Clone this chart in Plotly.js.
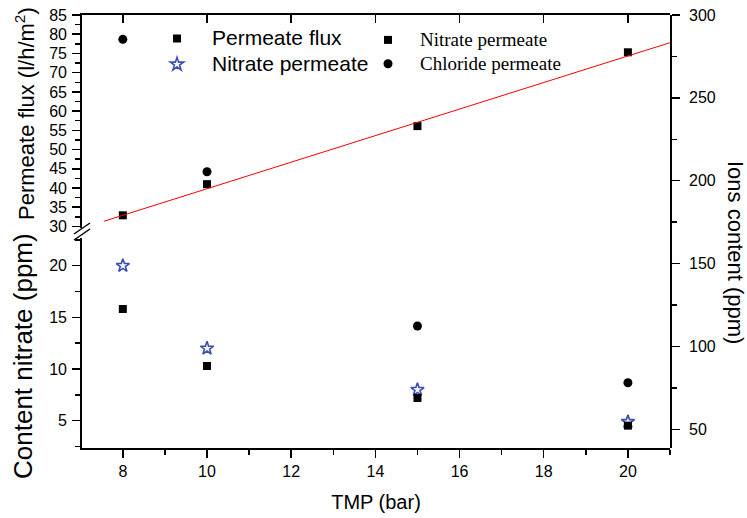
<!DOCTYPE html>
<html>
<head>
<meta charset="utf-8">
<script src="https://cdn.plot.ly/plotly-3.0.1.min.js"></script>
<style>html,body{margin:0;padding:0;background:#fff;}#chart{width:747px;height:518px;}</style>
</head>
<body>
<div id="chart"></div>
<script>
// ---- data ----
var tmp = [8, 10, 15, 20];
var permeateFlux = [32.9, 41.0, 56.1, 75.3];            // l/h/m2 (upper left axis)
var nitrateContent = [20.0, 12.0, 8.0, 4.9];            // ppm (lower left axis)
var nitrateIons = [122.6, 88.2, 68.9, 52.2];            // ppm (right axis)
var chlorideIons = [285.3, 205.4, 112.3, 78.1];         // ppm (right axis)
var fitX = [7.55, 21.0];                                // linear fit of flux
var fitY = [31.35, 77.8];
var xTicks = [8, 10, 12, 14, 16, 18, 20];

// ---- layout helpers (pixel -> paper) ----
var L = 82, R = 670, T = 15, B = 448;
function px(x) { return (x - L) / (R - L); }
function py(y) { return (B - y) / (B - T); }

var axFont = {family: 'Liberation Sans, Arial, sans-serif', size: 16, color: '#000'};

function big(txt, size) { return '<span style="font-size:' + size + 'px">' + txt + '</span>'; }

var traces = [
  {x: tmp, y: permeateFlux, xaxis: 'x', yaxis: 'y', mode: 'markers', name: big('Permeate flux', 21),
   marker: {symbol: 'square', size: 8, color: '#000'}, legend: 'legend', cliponaxis: false},
  {x: fitX, y: fitY, xaxis: 'x', yaxis: 'y', mode: 'lines', showlegend: false,
   line: {color: '#ff0000', width: 1}},
  {x: tmp, y: nitrateContent, xaxis: 'x', yaxis: 'y2', mode: 'markers', name: big('Nitrate permeate', 21),
   marker: {symbol: 'star-open', size: 10, color: '#3a4fb0', line: {width: 1.6, color: '#3a4fb0'}}, legend: 'legend', cliponaxis: false},
  {x: tmp, y: nitrateIons, xaxis: 'x', yaxis: 'y3', mode: 'markers', name: big('Nitrate permeate', 19),
   marker: {symbol: 'square', size: 8, color: '#000'}, legend: 'legend2', cliponaxis: false},
  {x: tmp, y: chlorideIons, xaxis: 'x', yaxis: 'y3', mode: 'markers', name: big('Chloride permeate', 19),
   marker: {symbol: 'circle', size: 9, color: '#000'}, legend: 'legend2', cliponaxis: false},
  {x: [7.5], y: [50], xaxis: 'x2', yaxis: 'y', mode: 'markers', showlegend: false, hoverinfo: 'skip',
   marker: {size: 1, opacity: 0}}
];

var layout = {
  width: 747, height: 518,
  margin: {l: L, r: 747 - R, t: T, b: 518 - B, pad: 0},
  paper_bgcolor: '#fff', plot_bgcolor: 'rgba(0,0,0,0)',
  font: axFont,
  showlegend: true,
  xaxis: {
    domain: [0, 1], anchor: 'y2', range: [7.03, 21.0],
    tickmode: 'array', tickvals: xTicks, ticks: 'outside', ticklen: 8, tickwidth: 1.5, tickcolor: '#000',
    minor: {dtick: 1, tick0: 7, ticks: 'outside', ticklen: 5, tickwidth: 1.5, tickcolor: '#000', showgrid: false},
    showline: true, linewidth: 1.8, linecolor: '#000', showgrid: false, zeroline: false,
    tickfont: axFont,
    title: {text: 'TMP (bar)', font: {family: 'Liberation Sans, Arial, sans-serif', size: 20, color: '#000'}, standoff: 16}
  },
  xaxis2: {
    overlaying: 'x', side: 'top', anchor: 'y', range: [7.03, 21.0],
    tickmode: 'array', tickvals: xTicks, ticks: 'inside', ticklen: 8, tickwidth: 1.5, tickcolor: '#000',
    showticklabels: false, showline: true, linewidth: 1.8, linecolor: '#000', showgrid: false, zeroline: false
  },
  yaxis: {
    domain: [py(228), 1], anchor: 'x', range: [29.6, 85],
    dtick: 5, tick0: 0, ticks: 'outside', ticklen: 8, tickwidth: 1.5, tickcolor: '#000',
    minor: {dtick: 2.5, tick0: 0, ticks: 'outside', ticklen: 5, tickwidth: 1.5, tickcolor: '#000', showgrid: false},
    showline: true, linewidth: 1.8, linecolor: '#000', showgrid: false, zeroline: false,
    tickfont: axFont, ticklabelstandoff: 2
  },
  yaxis2: {
    domain: [0, py(238)], anchor: 'x', range: [2.36, 22.68],
    dtick: 5, tick0: 0, ticks: 'outside', ticklen: 8, tickwidth: 1.5, tickcolor: '#000',
    minor: {dtick: 2.5, tick0: 0, ticks: 'outside', ticklen: 5, tickwidth: 1.5, tickcolor: '#000', showgrid: false},
    showline: true, linewidth: 1.8, linecolor: '#000', showgrid: false, zeroline: false,
    tickfont: axFont, ticklabelstandoff: 2
  },
  yaxis3: {
    domain: [0, 1], anchor: 'x', side: 'right', range: [38.7, 300],
    dtick: 50, tick0: 0, ticks: 'outside', ticklen: 8, tickwidth: 1.5, tickcolor: '#000',
    minor: {dtick: 25, tick0: 0, ticks: 'outside', ticklen: 5, tickwidth: 1.5, tickcolor: '#000', showgrid: false},
    showline: true, linewidth: 1.8, linecolor: '#000', showgrid: false, zeroline: false,
    tickfont: axFont, ticklabelstandoff: 6
  },
  legend: {
    x: px(142), y: py(20.5), xanchor: 'left', yanchor: 'top', bgcolor: 'rgba(0,0,0,0)',
    borderwidth: 0, tracegroupgap: 0, itemwidth: 60,
    font: {family: 'Liberation Sans, Arial, sans-serif', size: 17.6, color: '#000'}
  },
  legend2: {
    x: px(356), y: py(23), xanchor: 'left', yanchor: 'top', bgcolor: 'rgba(0,0,0,0)',
    borderwidth: 0, tracegroupgap: 0, itemwidth: 54,
    font: {family: 'Liberation Serif, Times New Roman, serif', size: 16, color: '#000'}
  },
  shapes: [
    {type: 'rect', xref: 'paper', yref: 'paper', x0: px(70), x1: px(94), y0: py(236.5), y1: py(229.5),
     fillcolor: '#fff', line: {width: 0}},
    {type: 'line', xref: 'paper', yref: 'paper', x0: px(74), y0: py(234), x1: px(90), y1: py(223),
     line: {color: '#000', width: 1.5}},
    {type: 'line', xref: 'paper', yref: 'paper', x0: px(74), y0: py(240), x1: px(90), y1: py(229),
     line: {color: '#000', width: 1.5}}
  ],
  annotations: [
    {text: 'Content nitrate (ppm)', xref: 'paper', yref: 'paper', x: px(23), y: py(356), xanchor: 'center', yanchor: 'middle',
     textangle: -90, showarrow: false, font: {family: 'Liberation Sans, Arial, sans-serif', size: 26, color: '#000'}},
    {text: 'Permeate flux (l/h/m<sup>2</sup>)', xref: 'paper', yref: 'paper', x: px(25), y: py(114), xanchor: 'center', yanchor: 'middle',
     textangle: -90, showarrow: false, font: {family: 'Liberation Sans, Arial, sans-serif', size: 22, color: '#000'}},
    {text: 'Ions content (ppm)', xref: 'paper', yref: 'paper', x: px(735), y: py(252), xanchor: 'center', yanchor: 'middle',
     textangle: 90, showarrow: false, font: {family: 'Liberation Sans, Arial, sans-serif', size: 22, color: '#000'}}
  ]
};

Plotly.newPlot('chart', traces, layout, {displayModeBar: false, staticPlot: true});
</script>
</body>
</html>
